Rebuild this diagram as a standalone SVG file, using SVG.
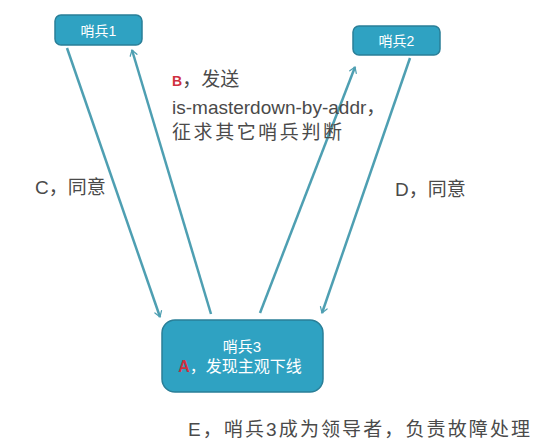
<svg xmlns="http://www.w3.org/2000/svg" width="545" height="448" viewBox="0 0 545 448">
<style>
.node rect{fill:#2fa2c2;stroke:#2a7f98;stroke-width:1.5}
.nt{fill:#ffffff;font-family:"Liberation Sans","Noto Sans CJK SC",sans-serif;text-anchor:middle}
.lbl{fill:#4a4a4a;font-family:"Liberation Sans","Noto Sans CJK SC",sans-serif;font-size:19px}
.red{fill:#d03040}
.conn line{stroke:#4e9fb2;stroke-width:2.5;fill:none;marker-end:url(#arr)}
</style>
<defs>
<marker id="arr" viewBox="0 0 12 12" refX="10" refY="6" markerWidth="6" markerHeight="6" orient="auto" markerUnits="userSpaceOnUse" style="overflow:visible">
<path d="M-1,-1 L10,6 L-1,13" fill="none" stroke="#4e9fb2" stroke-width="2.5" stroke-linecap="round"/>
</marker>
</defs>
<rect width="545" height="448" fill="#ffffff"/>
<g class="conn">
<line x1="67" y1="48" x2="160" y2="317"/>
<line x1="211" y1="314" x2="132" y2="50"/>
<line x1="260" y1="313" x2="355" y2="67"/>
<line x1="410" y1="58" x2="322" y2="313"/>
</g>
<g id="node1" class="node">
<rect x="55" y="15" width="87" height="30" rx="6"/>
<text class="nt" x="98.5" y="36" font-size="14">哨兵1</text>
</g>
<g id="node2" class="node">
<rect x="353" y="26" width="87" height="29" rx="6"/>
<text class="nt" x="396.5" y="46" font-size="14">哨兵2</text>
</g>
<g id="node3" class="node">
<rect x="162" y="320" width="161" height="72" rx="13"/>
<text class="nt" x="242" y="352" font-size="15">哨兵3</text>
<text class="nt" x="240" y="372" font-size="16"><tspan class="red" font-weight="bold">A</tspan>，发现主观下线</text>
</g>
<g id="labels">
<text class="lbl" x="172" y="86"><tspan class="red" font-size="14" font-weight="bold">B</tspan>，发送</text>
<text class="lbl" x="172" y="114">is-masterdown-by-addr，</text>
<text class="lbl" x="172" y="139" textLength="170" lengthAdjust="spacing">征求其它哨兵判断</text>
<text class="lbl" x="35" y="194">C，同意</text>
<text class="lbl" x="395" y="196">D，同意</text>
<text class="lbl" x="188" y="436" textLength="342" lengthAdjust="spacing">E，哨兵3成为领导者，负责故障处理</text>
</g>
</svg>
